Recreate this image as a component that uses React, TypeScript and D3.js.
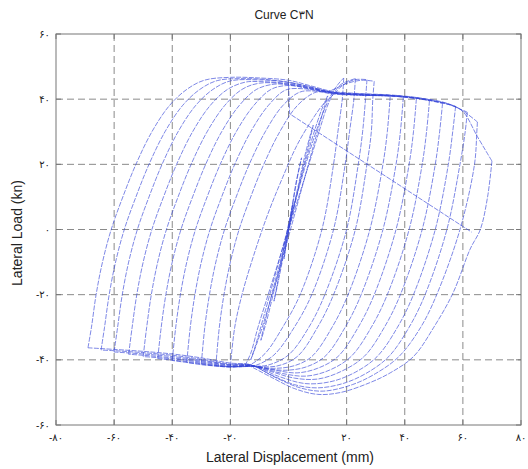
import React from "react";
import * as d3 from "d3";

type Pt = [number, number];

const xTicks = [-80, -60, -40, -20, 0, 20, 40, 60, 80];
const yTicks = [-60, -40, -20, 0, 20, 40, 60];
const xTickLabels = ["-۸۰", "-۶۰", "-۴۰", "-۲۰", "۰", "۲۰", "۴۰", "۶۰", "۸۰"];
const yTickLabels = ["-۶۰", "-۴۰", "-۲۰", "۰", "۲۰", "۴۰", "۶۰"];

const titleText = "Curve C۳N";
const xLabel = "Lateral Displacement (mm)";
const yLabel = "Lateral Load (kn)";

// initial small cycles around the origin, up to the first peak
const initialLoading: Pt[] = [
  [0, 0], [0.8, 4], [1.5, 8], [0.5, 3], [-0.8, -4], [-1.5, -9], [-0.5, -3], [1, 5],
  [2.5, 14], [4.5, 22], [3.5, 18], [1, 6], [-1.5, -5], [-3.5, -15], [-5, -22], [-4, -18],
  [-1.5, -7], [1, 4], [3.5, 14], [6, 24], [8.5, 32], [7.5, 28], [4.5, 17], [1.5, 5],
  [-1.5, -6], [-4.5, -17], [-7.5, -28], [-9.5, -34], [-8.5, -30], [-5.5, -19], [-2, -7],
  [1.5, 6], [5, 18], [8.5, 29], [11.5, 37], [13.5, 41], [12.5, 38], [9, 27], [5, 14],
  [1, 1], [-3, -12], [-7, -24], [-10.5, -34], [-13, -40], [-11.5, -36], [-8, -25],
  [-4, -12], [0, 1], [4, 14], [8, 26], [11.5, 35], [14.5, 41], [17, 44.5], [19, 46.5],
];

// unloading branches: from each positive peak down to the next negative peak
const fallBranches: Pt[][] = [
  [[19, 46.5], [18.5, 40], [17, 30], [15.5, 20], [11.5, 0], [4, -20], [-2, -30], [-8, -38], [-13, -41.4], [-15, -41.8]],
  [[23, 46.3], [22.5, 40], [21, 30], [19.5, 20], [15.5, 0], [8, -20], [2, -30], [-5, -38.5], [-11, -41.6], [-15, -42], [-20, -42]],
  [[27, 46], [26.5, 40], [25.5, 30], [24, 20], [20, 0], [12.5, -20], [7, -30], [0, -38.5], [-7, -41.6], [-13, -42], [-20, -42.1], [-25, -41.8]],
  [[29.5, 45.5], [29, 40], [28.5, 30], [27, 20], [23, 0], [15.5, -20], [10, -30], [3, -39], [-4, -41.9], [-13, -42], [-20, -42.2], [-25, -41.9], [-30, -41.3]],
  [[35, 41], [34, 30], [32.5, 20], [28, 0], [20.5, -20], [15, -30], [8, -39], [2, -41.8], [-5, -42.6], [-13, -41.9], [-20, -42.2], [-25, -41.9], [-30, -41.5], [-35, -40.8]],
  [[39.5, 40.6], [38.5, 30], [37, 20], [32.5, 0], [25, -20], [19.5, -30], [12.5, -39], [6, -42.2], [-1, -43.2], [-8, -42.6], [-13, -41.8], [-20, -42.1], [-30, -41.2], [-35, -40.8], [-40, -40.2]],
  [[44, 40.1], [43, 30], [41.5, 20], [37, 0], [29.5, -20], [24, -30], [17, -39], [10, -42.6], [3, -44], [-4, -43.3], [-13, -41.8], [-20, -42], [-30, -41], [-40, -40.1], [-45, -39.6]],
  [[48.5, 39.5], [47.5, 30], [46, 20], [41.5, 0], [34, -20], [28.5, -30], [21.5, -39], [14, -43.2], [6, -45], [-2, -44.2], [-8, -42.8], [-13, -41.8], [-20, -41.8], [-30, -40.7], [-40, -39.7], [-50, -39]],
  [[53, 38.7], [52, 30], [50.5, 20], [46, 0], [38.5, -20], [33, -30], [26, -39], [18, -43.6], [10, -45.9], [2, -45.6], [-6, -43.6], [-13, -41.7], [-20, -41.6], [-30, -40.4], [-40, -39.4], [-50, -38.6], [-55, -38.3]],
  [[57.5, 37.8], [56.5, 30], [55, 20], [50.5, 0], [43, -20], [37.5, -30], [30.5, -39], [23, -43.8], [15, -46.6], [6, -47.3], [-3, -45.2], [-13, -41.6], [-20, -41.5], [-30, -40.1], [-40, -39], [-50, -38.2], [-60, -37.6]],
  [[61.5, 36], [60.8, 30], [59, 20], [54.5, 0], [47, -20], [41.5, -30], [34.5, -39], [27, -44], [19, -47.2], [10, -48.6], [2, -47.6], [-6, -44.6], [-13, -41.6], [-20, -41.3], [-30, -39.8], [-40, -38.6], [-50, -37.8], [-60, -37.2], [-64.5, -37]],
  [[65, 33], [64.8, 30], [64, 20], [59, 0], [51, -20], [45.5, -30], [38, -39], [30, -44.2], [22, -47.6], [12, -49.6], [4, -48.6], [-5, -45.2], [-13, -41.5], [-20, -41], [-30, -39.4], [-40, -38.2], [-50, -37.4], [-60, -36.8], [-69, -36.3]],
  [[70, 21], [68.5, 10], [66, 0], [62.5, -6], [56.6, -19.5], [50, -30], [43, -39], [35, -44], [28, -47], [18, -50], [10, -50.6], [2, -48.8], [-6, -45.3], [-13, -42]],
];

// reloading branches: from each negative peak up to the next positive peak
const riseBranches: Pt[][] = [
  [[-15, -41.8], [-13, -38], [-10.5, -30], [-7, -20], [-3.5, -10], [0, 0], [3.5, 10], [7, 20], [10.5, 30], [13, 37], [15, 41], [18, 44.5], [23, 46.3]],
  [[-20, -42], [-18.5, -30], [-16, -20], [-12, -8], [-7, 5], [-2, 16], [3, 26], [8, 33.5], [12, 38.5], [15, 41], [19, 44.5], [23, 46], [27, 46]],
  [[-25, -41.8], [-23.8, -30], [-22.2, -20], [-20, -10], [-17, 0], [-13, 10], [-8.5, 20], [-3, 30], [3, 38], [9, 42], [14, 42.5], [20, 44.8], [25, 45.8], [29.5, 45.5]],
  [[-30, -41.3], [-28.8, -30], [-27.2, -20], [-25, -10], [-22, 0], [-18, 10], [-13.5, 20], [-8, 30], [-2, 38], [4, 42.2], [10, 42.4], [15, 41.6], [25, 41.2], [30, 41.1], [35, 41]],
  [[-35, -40.8], [-33.8, -30], [-32.2, -20], [-30, -10], [-27, 0], [-23, 10], [-18.5, 20], [-13, 30], [-7, 38], [-1, 42.8], [5, 43.2], [10, 42.6], [15, 41.8], [25, 41.3], [35, 41], [39.5, 40.6]],
  [[-40, -40.2], [-38.8, -30], [-37.2, -20], [-35, -10], [-32, 0], [-28, 10], [-23.5, 20], [-18, 30], [-12, 38], [-6, 43], [0, 44.2], [8, 43], [15, 41.9], [25, 41.2], [35, 41], [40, 40.6], [44, 40.1]],
  [[-45, -39.6], [-43.8, -30], [-42.2, -20], [-40, -10], [-37, 0], [-33, 10], [-28.5, 20], [-23, 30], [-17, 38], [-11, 43], [-5, 44.6], [0, 44.4], [8, 43.2], [15, 42], [25, 41.3], [35, 41], [40, 40.7], [45, 40.1], [48.5, 39.5]],
  [[-50, -39], [-48.8, -30], [-47.2, -20], [-45, -10], [-42, 0], [-38, 10], [-33.5, 20], [-28, 30], [-22, 38], [-16, 43], [-10, 44.9], [0, 44.6], [8, 43.3], [15, 42], [25, 41.4], [35, 41.1], [45, 40.2], [50, 39.3], [53, 38.7]],
  [[-55, -38.3], [-53.8, -30], [-52.2, -20], [-50, -10], [-47, 0], [-43, 10], [-38.5, 20], [-33, 30], [-27, 38], [-21, 43], [-15, 45.2], [-10, 45.4], [0, 44.8], [8, 43.4], [15, 42], [25, 41.4], [35, 41.1], [45, 40.2], [50, 39.4], [55, 38.4], [57.5, 37.8]],
  [[-60, -37.6], [-58.8, -30], [-57.2, -20], [-55, -10], [-52, 0], [-48, 10], [-43.5, 20], [-38, 30], [-32, 38], [-26, 43], [-20, 45.6], [-10, 45.9], [0, 45.2], [8, 43.6], [15, 42.1], [25, 41.5], [35, 41.1], [45, 40.2], [55, 38.4], [61.5, 36]],
  [[-64.5, -37], [-63.3, -30], [-61.7, -20], [-59.5, -10], [-56.5, 0], [-52.5, 10], [-48, 20], [-42.5, 30], [-36.5, 38], [-30.5, 43], [-24.5, 45.7], [-15, 46.3], [-5, 45.8], [5, 44.3], [15, 42.2], [25, 41.6], [35, 41.2], [45, 40.3], [55, 38.5], [60, 36.4], [65, 33]],
  [[-69, -36.3], [-67.8, -30], [-66.2, -20], [-64, -10], [-61, 0], [-57, 10], [-52.5, 20], [-47, 30], [-41, 38], [-35, 43], [-29, 45.8], [-20, 46.7], [-10, 46.5], [0, 45.8], [8, 44], [15, 42.4], [25, 41.7], [35, 41.3], [45, 40.4], [55, 38.6], [60, 36.2], [65, 28.5], [70, 21]],
];

// straight drop line at the end of the record
const finalDrop: Pt[] = [[0, 44.5], [0.4, 35.5], [63, -0.8]];

const W = 528;
const H = 469;
const M = { left: 56, right: 521, top: 34, bottom: 425 };

export default function App() {
  const x = d3.scaleLinear().domain([-80, 80]).range([M.left, M.right]);
  const y = d3.scaleLinear().domain([-60, 60]).range([M.bottom, M.top]);
  const curve = d3
    .line<Pt>()
    .x((d) => x(d[0]))
    .y((d) => y(d[1]))
    .curve(d3.curveCatmullRom.alpha(0.5));
  const straight = d3
    .line<Pt>()
    .x((d) => x(d[0]))
    .y((d) => y(d[1]));

  const font = "'Liberation Sans', Arial, 'DejaVu Sans', sans-serif";
  const lineColor = "#3444d8";
  const branches = [initialLoading, ...fallBranches, ...riseBranches];

  return (
    <svg
      width={W}
      height={H}
      viewBox={`0 0 ${W} ${H}`}
      style={{ position: "absolute", left: 0, top: 0, background: "#fff" }}
    >
      <rect x={0} y={0} width={W} height={H} fill="#fff" />
      {/* grid */}
      <g stroke="#8a8a8a" strokeWidth={1} strokeDasharray="7 4" fill="none">
        {xTicks.slice(1, -1).map((t) => (
          <line key={"gx" + t} x1={x(t)} x2={x(t)} y1={M.top} y2={M.bottom} />
        ))}
        {yTicks.slice(1, -1).map((t) => (
          <line key={"gy" + t} x1={M.left} x2={M.right} y1={y(t)} y2={y(t)} />
        ))}
      </g>
      {/* curves */}
      <g fill="none" stroke={lineColor} strokeWidth={0.75} strokeOpacity={0.85} strokeDasharray="5 1.3">
        {branches.map((b, i) => (
          <path key={"b" + i} d={curve(b) || ""} />
        ))}
        <path d={straight(finalDrop) || ""} />
      </g>
      {/* frame */}
      <rect
        x={M.left}
        y={M.top}
        width={M.right - M.left}
        height={M.bottom - M.top}
        fill="none"
        stroke="#777"
        strokeWidth={1}
      />
      {/* ticks */}
      <g stroke="#777" strokeWidth={1}>
        {xTicks.map((t) => (
          <g key={"tx" + t}>
            <line x1={x(t)} x2={x(t)} y1={M.bottom} y2={M.bottom - 5} />
            <line x1={x(t)} x2={x(t)} y1={M.top} y2={M.top + 5} />
          </g>
        ))}
        {yTicks.map((t) => (
          <g key={"ty" + t}>
            <line x1={M.left} x2={M.left + 5} y1={y(t)} y2={y(t)} />
            <line x1={M.right} x2={M.right - 5} y1={y(t)} y2={y(t)} />
          </g>
        ))}
      </g>
      {/* tick labels */}
      <g fontFamily={font} fontSize={10} fill="#222">
        {xTicks.map((t, i) => (
          <text key={"lx" + t} x={x(t)} y={M.bottom + 16} textAnchor="middle">
            {xTickLabels[i]}
          </text>
        ))}
        {yTicks.map((t, i) => (
          <text key={"ly" + t} x={M.left - 6} y={y(t) + 3.5} textAnchor="end">
            {yTickLabels[i]}
          </text>
        ))}
      </g>
      <text x={284} y={19} textAnchor="middle" fontFamily={font} fontSize={12} fill="#222">
        {titleText}
      </text>
      <text x={290} y={462} textAnchor="middle" fontFamily={font} fontSize={14} fill="#222">
        {xLabel}
      </text>
      <text
        transform={`translate(22, ${233}) rotate(-90)`}
        textAnchor="middle"
        fontFamily={font}
        fontSize={14}
        fill="#222"
      >
        {yLabel}
      </text>
    </svg>
  );
}
